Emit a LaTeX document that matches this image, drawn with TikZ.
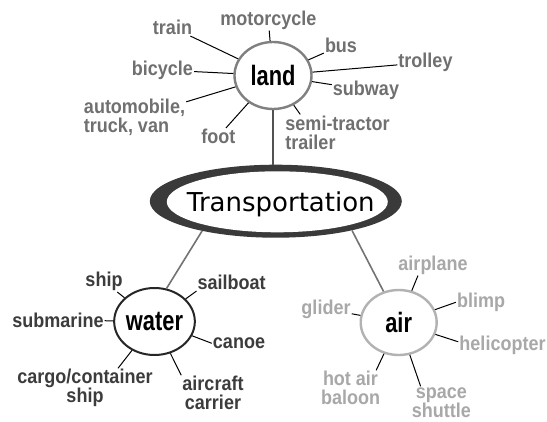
\documentclass[tikz,border=0pt]{standalone}
\usepackage{fontspec}
\usetikzlibrary{shapes.geometric}
\newfontfamily\lblfont[FakeStretch=0.9]{Liberation Sans Bold}
\newfontfamily\hubfont[FakeStretch=0.78]{Liberation Sans Bold}
\newfontfamily\titlefont{DejaVu Sans}
\definecolor{landtxt}{HTML}{707070}
\definecolor{watertxt}{HTML}{3C3C3C}
\definecolor{airtxt}{HTML}{A8A8A8}
\definecolor{band}{HTML}{3A3A3A}
\tikzset{
  lbl/.style={inner sep=1pt, font=\lblfont\fontsize{20}{19}\selectfont},
  landlbl/.style={lbl, text=landtxt},
  waterlbl/.style={lbl, text=watertxt},
  airlbl/.style={lbl, text=airtxt},
  hub/.style={ellipse, inner sep=0pt, fill=white, font=\hubfont\fontsize{28}{30}\selectfont, text=black},
  spoke/.style={draw=black, line width=1pt},
  branch/.style={draw=black!55, line width=1.6pt},
}
\begin{document}
\begin{tikzpicture}[x=1pt,y=-1pt]
\useasboundingbox[fill=white] (0,0) rectangle (547,421);

% Transportation ellipse
\node[ellipse, fill=band, minimum width=252pt, minimum height=73pt, inner sep=0pt] (trans) at (275.8,201.2) {};
\node[ellipse, fill=white, minimum width=221pt, minimum height=61pt, inner sep=0pt] (transin) at (277.3,201.8) {};
\node[inner sep=0pt, anchor=base, font=\titlefont\fontsize{26}{30}\selectfont] (transtext) at (280.8,211.7) {Transportation};

% hubs
\node[hub, draw=black!50, line width=2.4pt, minimum width=77pt, minimum height=67pt] (land) at (273,75.5) {land};
\node[hub, draw=black!85, line width=2pt, minimum width=76pt, minimum height=67pt] (water) at (154.5,321.5) {water};
\node[hub, draw=black!30, line width=2.4pt, minimum width=76pt, minimum height=65pt] (air) at (398.7,322.5) {air};

% main connectors
\draw[draw=black!68, line width=2.6pt] (land) -- (land |- trans.north);
\draw[branch] (trans.202) -- (water.70);
\draw[branch] (trans.-21) -- (air.116);

% land labels
\node[landlbl] (train) at (172.5,27.5) {train};
\node[landlbl] (motorcycle) at (268.3,20) {motorcycle};
\node[landlbl] (bus) at (341,45.5) {bus};
\node[landlbl] (trolley) at (425.5,62.5) {trolley};
\node[landlbl] (bicycle) at (162.3,70) {bicycle};
\node[landlbl] (subway) at (366,90) {subway};
\node[landlbl, align=left] (auto) at (134.5,117.5) {automobile,\\truck, van};
\node[landlbl] (foot) at (218.3,136.5) {foot};
\node[landlbl, align=left] (semi) at (337.5,132.5) {semi-tractor\\trailer};

\draw[spoke] (land) -- (train);
\draw[spoke] (land) -- (motorcycle);
\draw[spoke] (land) -- (bus);
\draw[spoke] (land) -- (trolley);
\draw[spoke] (land) -- (bicycle);
\draw[spoke] (land) -- (subway);
\draw[spoke] (land) -- (auto);
\draw[spoke] (land) -- (foot);
\draw[spoke] (land) -- ([xshift=16pt]semi.north west);

% water labels
\node[waterlbl] (ship) at (104,281.5) {ship};
\node[waterlbl] (sailboat) at (231.7,282.5) {sailboat};
\node[waterlbl] (submarine) at (58,320) {submarine};
\node[waterlbl] (canoe) at (239,343.3) {canoe};
\node[waterlbl, align=center] (cargo) at (85,388.3) {cargo/container\\ship};
\node[waterlbl, align=center] (carrier) at (213,393.3) {aircraft\\carrier};

\draw[spoke] (water) -- (ship);
\draw[spoke] (water) -- (sailboat.south west);
\draw[spoke] (water) -- (submarine);
\draw[spoke] (water) -- (canoe.west);
\draw[spoke] (water) -- ([xshift=33pt]cargo.north);
\draw[spoke] (water) -- (carrier.north west);

% air labels
\node[airlbl] (airplane) at (433,265) {airplane};
\node[airlbl] (glider) at (326,309) {glider};
\node[airlbl] (blimp) at (481,302.3) {blimp};
\node[airlbl] (helicopter) at (502.5,345.8) {helicopter};
\node[airlbl, align=center] (hot) at (350.5,388.3) {hot air\\baloon};
\node[airlbl, align=center] (shuttle) at (441.3,402.5) {space\\shuttle};

\draw[spoke] (air) -- ([xshift=-15pt]airplane.south);
\draw[spoke] (air) -- (glider);
\draw[spoke] (air) -- (blimp.west);
\draw[spoke] (air) -- ([yshift=4pt]helicopter.west);
\draw[spoke] (air) -- ([xshift=-5pt]hot.north east);
\draw[spoke] (air) -- ([xshift=10pt]shuttle.north west);
\end{tikzpicture}
\end{document}
